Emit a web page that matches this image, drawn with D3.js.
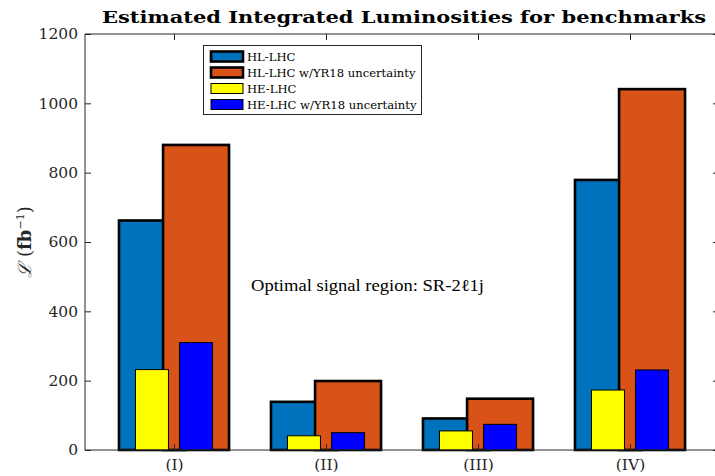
<!DOCTYPE html>
<html>
<head>
<meta charset="utf-8">
<script src="https://cdn.jsdelivr.net/npm/d3@7"></script>
<style>
  html, body { margin: 0; padding: 0; background: #fff; }
  svg { display: block; }
  svg text { font-family: "DejaVu Serif", "Liberation Serif", serif; }
</style>
</head>
<body>
<svg id="chart" width="715" height="476"></svg>
<script>
// Benchmarks and estimated integrated luminosities (fb^-1)
const categories = ["(I)", "(II)", "(III)", "(IV)"];
const hlLhc      = [662, 139, 91, 779];
const hlLhcYR18  = [880, 199, 148, 1041];
const heLhc      = [232, 41, 55, 173];
const heLhcYR18  = [310, 50, 74, 231];
const yTicks     = [0, 200, 400, 600, 800, 1000, 1200];
const seriesNames = ["HL-LHC", "HL-LHC w/YR18 uncertainty", "HE-LHC", "HE-LHC w/YR18 uncertainty"];
const seriesColors = ["#0072BD", "#D95319", "#FFFF00", "#0000FF"];

const serif = "DejaVu Serif";
const svg = d3.select("#chart");
const m = { left: 85, right: 719, top: 34, bottom: 450 };

// group index (1..4) on a continuous x axis
const x = d3.scaleLinear().domain([0.4145, 4.5855]).range([m.left, m.right]);
const y = d3.scaleLinear().domain([0, 1200]).range([m.bottom, m.top]);

const offset = 0.145;   // half spacing between the two bars in a group (data units)
const wideW = 0.434;    // HL-LHC bar width (data units)
const narrowW = 0.217;  // HE-LHC bar width (data units)

const series = [
  { vals: hlLhc,     dx: -offset, w: wideW,   color: seriesColors[0], sw: 2.6 },
  { vals: hlLhcYR18, dx:  offset, w: wideW,   color: seriesColors[1], sw: 2.6 },
  { vals: heLhc,     dx: -offset, w: narrowW, color: seriesColors[2], sw: 1 },
  { vals: heLhcYR18, dx:  offset, w: narrowW, color: seriesColors[3], sw: 1 }
];

const barsG = svg.append("g");
series.forEach(s => {
  barsG.append("g").selectAll("rect")
    .data(s.vals.map((v, i) => ({ v, i })))
    .join("rect")
    .attr("x", d => x(d.i + 1 + s.dx - s.w / 2))
    .attr("width", d => x(d.i + 1 + s.dx + s.w / 2) - x(d.i + 1 + s.dx - s.w / 2))
    .attr("y", d => y(d.v))
    .attr("height", d => y(0) - y(d.v))
    .attr("fill", s.color)
    .attr("stroke", "#000")
    .attr("stroke-width", s.sw);
});

// Axes box with inward ticks
const axisColor = "#262626";
const groupIdx = categories.map((c, i) => i + 1);

const axLeft = svg.append("g").attr("transform", `translate(${m.left},0)`)
  .call(d3.axisLeft(y).tickValues(yTicks).tickSize(-6).tickPadding(7).tickFormat(d3.format("d")));
const axRight = svg.append("g").attr("transform", `translate(${m.right},0)`)
  .call(d3.axisRight(y).tickValues(yTicks).tickSize(-6).tickFormat(""));
const axBottom = svg.append("g").attr("transform", `translate(0,${m.bottom})`)
  .call(d3.axisBottom(x).tickValues(groupIdx).tickSize(-6).tickPadding(9).tickFormat((d, i) => categories[i]));
const axTop = svg.append("g").attr("transform", `translate(0,${m.top})`)
  .call(d3.axisTop(x).tickValues(groupIdx).tickSize(-6).tickFormat(""));

[axLeft, axRight, axBottom, axTop].forEach(g => {
  g.attr("font-family", serif);
  g.select(".domain").attr("stroke", axisColor).attr("stroke-width", 1);
  g.selectAll(".tick line").attr("stroke", axisColor).attr("stroke-width", 1);
  g.selectAll(".tick text").attr("fill", axisColor)
    .style("font-family", serif).style("font-size", "15.5px");
});
axLeft.selectAll(".domain").attr("d", `M0,${m.top}V${m.bottom}`);
axRight.selectAll(".domain").attr("d", `M0,${m.top}V${m.bottom}`);
axTop.selectAll(".domain").attr("d", `M${m.left},0H${m.right}`);
axBottom.selectAll(".domain").attr("d", `M${m.left},0H${m.right}`);

// Title
svg.append("text")
  .attr("x", 404).attr("y", 23)
  .attr("text-anchor", "middle")
  .attr("textLength", 604).attr("lengthAdjust", "spacingAndGlyphs")
  .style("font-family", serif)
  .style("font-size", "17.5px").style("font-weight", "bold")
  .text("Estimated Integrated Luminosities for benchmarks");

// Y label
const yl = svg.append("text")
  .attr("transform", "translate(31,242) rotate(-90)")
  .attr("text-anchor", "middle")
  .style("font-family", serif)
  .style("font-size", "18px").attr("fill", "#262626");
yl.append("tspan").style("font-style", "italic").text("ℒ");
yl.append("tspan").text(" (");
yl.append("tspan").style("font-weight", "bold").text("fb");
yl.append("tspan").attr("dy", -7).style("font-size", "11px").text("−1");
yl.append("tspan").attr("dy", 7).text(")");

// Annotation
svg.append("text")
  .attr("x", 251).attr("y", 291)
  .attr("textLength", 233).attr("lengthAdjust", "spacingAndGlyphs")
  .style("font-family", "Liberation Serif")
  .style("font-size", "16.5px")
  .text("Optimal signal region: SR-2ℓ1j");

// Legend
const lg = svg.append("g");
lg.append("rect").attr("x", 203.5).attr("y", 45.5).attr("width", 218).attr("height", 69)
  .attr("fill", "#fff").attr("stroke", axisColor).attr("stroke-width", 1);
seriesNames.forEach((name, i) => {
  const cy = 56.5 + i * 16;
  lg.append("rect").attr("x", 211).attr("y", cy - 5).attr("width", 32).attr("height", 10)
    .attr("fill", seriesColors[i]).attr("stroke", "#000").attr("stroke-width", i < 2 ? 2.6 : 1);
  lg.append("text").attr("x", 247).attr("y", cy + 4)
    .style("font-family", serif)
    .style("font-size", "11.6px").text(name);
});
</script>
</body>
</html>
